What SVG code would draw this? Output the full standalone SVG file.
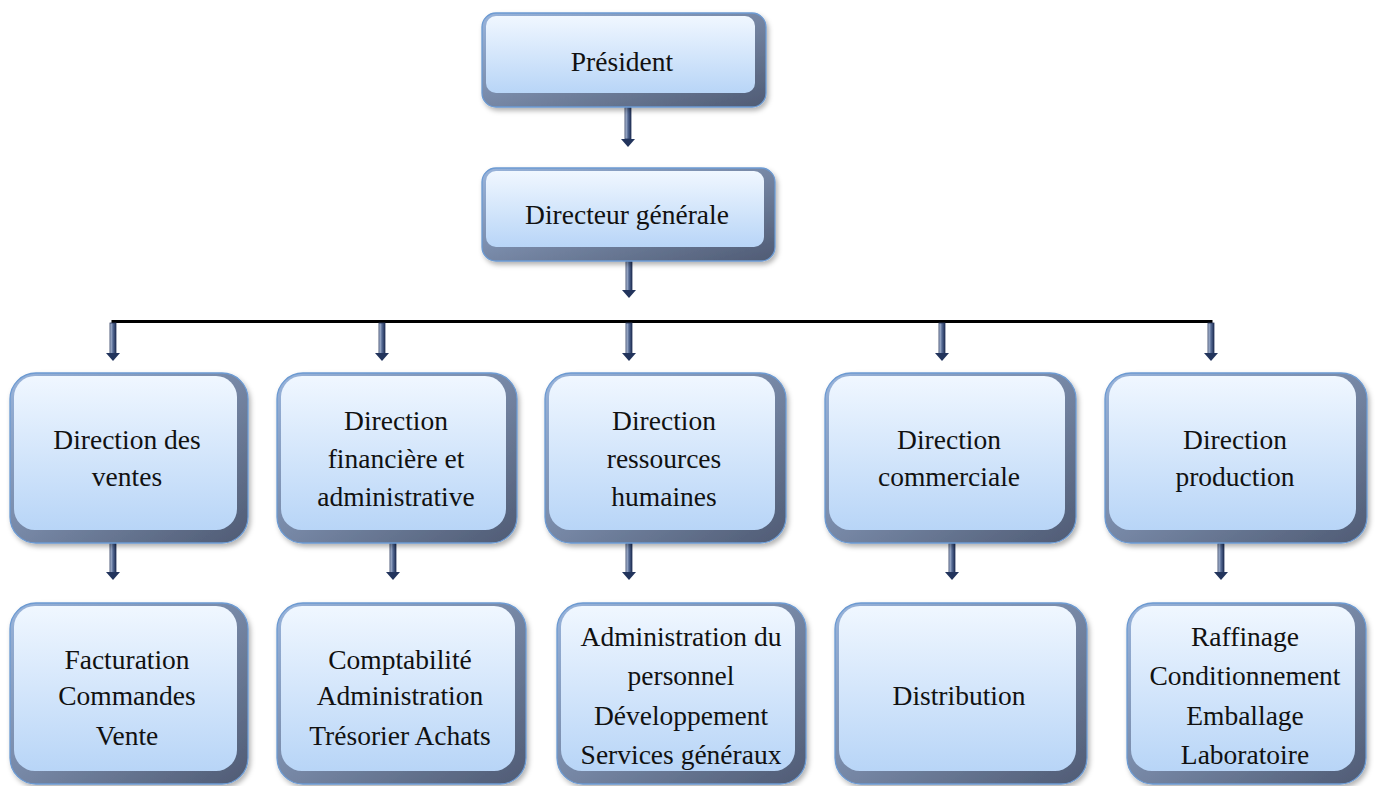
<svg xmlns="http://www.w3.org/2000/svg" width="1376" height="786" viewBox="0 0 1376 786">
<defs>
  <linearGradient id="bev" x1="0" y1="0" x2="1" y2="1">
    <stop offset="0" stop-color="#98b4dc"/>
    <stop offset="0.5" stop-color="#7687a5"/>
    <stop offset="1" stop-color="#4f5b74"/>
  </linearGradient>
  <linearGradient id="face" x1="0" y1="0" x2="0" y2="1">
    <stop offset="0" stop-color="#f0f7ff"/>
    <stop offset="1" stop-color="#b8d5f7"/>
  </linearGradient>
  <linearGradient id="shaft" x1="0" y1="0" x2="1" y2="0">
    <stop offset="0" stop-color="#c9d5ea"/>
    <stop offset="0.5" stop-color="#556a94"/>
    <stop offset="1" stop-color="#1f2f55"/>
  </linearGradient>
  <filter id="sh" x="-10%" y="-10%" width="120%" height="125%">
    <feDropShadow dx="2" dy="3" stdDeviation="2.5" flood-color="#000" flood-opacity="0.3"/>
  </filter>
</defs>
<style>
  .bevel { fill: url(#bev); stroke: #6c9ad2; stroke-width: 1.3; filter: url(#sh); }
  .face { fill: url(#face); }
  .lbl { font-family: "Liberation Serif", "DejaVu Serif", serif; font-size: 27.5px; fill: #111; text-anchor: middle; }
  .sh { fill: url(#shaft); stroke: #26365a; stroke-width: 0.8; }
  .hd { fill: #22345c; }
  .bus { fill: none; stroke: #000; stroke-width: 3; }
</style>

<g id="connectors">
  <path class="bus" d="M113,333 V321.5 H1211 V333"/>
  <g id="a-pres">
    <rect class="sh" x="625" y="107" width="6" height="32"/><polygon class="hd" points="621,139 635,139 628,147"/>
  </g>
  <g id="a-dg">
    <rect class="sh" x="626" y="261" width="6" height="30"/><polygon class="hd" points="622,290 636,290 629,298"/>
  </g>
  <g id="a-bus">
    <rect class="sh" x="110" y="323" width="6" height="31"/><polygon class="hd" points="106,353 120,353 113,361"/>
    <rect class="sh" x="379" y="323" width="6" height="31"/><polygon class="hd" points="375,353 389,353 382,361"/>
    <rect class="sh" x="626" y="323" width="6" height="31"/><polygon class="hd" points="622,353 636,353 629,361"/>
    <rect class="sh" x="939" y="323" width="6" height="31"/><polygon class="hd" points="935,353 949,353 942,361"/>
    <rect class="sh" x="1208" y="323" width="6" height="31"/><polygon class="hd" points="1204,353 1218,353 1211,361"/>
  </g>
  <g id="a-row2">
    <rect class="sh" x="110" y="543" width="6" height="30"/><polygon class="hd" points="106,572 120,572 113,580"/>
    <rect class="sh" x="390" y="543" width="6" height="30"/><polygon class="hd" points="386,572 400,572 393,580"/>
    <rect class="sh" x="626" y="543" width="6" height="30"/><polygon class="hd" points="622,572 636,572 629,580"/>
    <rect class="sh" x="949" y="543" width="6" height="30"/><polygon class="hd" points="945,572 959,572 952,580"/>
    <rect class="sh" x="1218" y="543" width="6" height="30"/><polygon class="hd" points="1214,572 1228,572 1221,580"/>
  </g>
</g>

<g id="n-president">
  <rect class="bevel" x="482" y="13" width="284" height="94" rx="14"/>
  <rect class="face" x="486" y="16" width="269" height="77" rx="10"/>
  <text class="lbl" x="622" y="71">Président</text>
</g>
<g id="n-dg">
  <rect class="bevel" x="482" y="168" width="293" height="93" rx="14"/>
  <rect class="face" x="486" y="171" width="278" height="76" rx="10"/>
  <text class="lbl" x="627" y="224">Directeur générale</text>
</g>

<g id="n-ventes">
  <rect class="bevel" x="10" y="373" width="238" height="170" rx="26"/>
  <rect class="face" x="14" y="376" width="223" height="154" rx="21"/>
  <text class="lbl" x="127" y="449">Direction des</text>
  <text class="lbl" x="127" y="486">ventes</text>
</g>
<g id="n-fin">
  <rect class="bevel" x="277" y="373" width="240" height="170" rx="26"/>
  <rect class="face" x="281" y="376" width="225" height="154" rx="21"/>
  <text class="lbl" x="396" y="430">Direction</text>
  <text class="lbl" x="396" y="468">financière et</text>
  <text class="lbl" x="396" y="506">administrative</text>
</g>
<g id="n-rh">
  <rect class="bevel" x="545" y="373" width="241" height="170" rx="26"/>
  <rect class="face" x="549" y="376" width="226" height="154" rx="21"/>
  <text class="lbl" x="664" y="430">Direction</text>
  <text class="lbl" x="664" y="468">ressources</text>
  <text class="lbl" x="664" y="506">humaines</text>
</g>
<g id="n-com">
  <rect class="bevel" x="825" y="373" width="251" height="170" rx="26"/>
  <rect class="face" x="829" y="376" width="236" height="154" rx="21"/>
  <text class="lbl" x="949" y="449">Direction</text>
  <text class="lbl" x="949" y="486">commerciale</text>
</g>
<g id="n-prod">
  <rect class="bevel" x="1105" y="373" width="262" height="170" rx="26"/>
  <rect class="face" x="1109" y="376" width="247" height="154" rx="21"/>
  <text class="lbl" x="1235" y="449">Direction</text>
  <text class="lbl" x="1235" y="486">production</text>
</g>

<g id="n-fact">
  <rect class="bevel" x="10" y="603" width="238" height="181" rx="26"/>
  <rect class="face" x="14" y="606" width="223" height="165" rx="21"/>
  <text class="lbl" x="127" y="669">Facturation</text>
  <text class="lbl" x="127" y="705">Commandes</text>
  <text class="lbl" x="127" y="745">Vente</text>
</g>
<g id="n-compta">
  <rect class="bevel" x="277" y="603" width="249" height="181" rx="26"/>
  <rect class="face" x="281" y="606" width="234" height="165" rx="21"/>
  <text class="lbl" x="400" y="669">Comptabilité</text>
  <text class="lbl" x="400" y="705">Administration</text>
  <text class="lbl" x="400" y="745">Trésorier Achats</text>
</g>
<g id="n-perso">
  <rect class="bevel" x="557" y="603" width="249" height="181" rx="26"/>
  <rect class="face" x="561" y="606" width="234" height="165" rx="21"/>
  <text class="lbl" x="681" y="646">Administration du</text>
  <text class="lbl" x="681" y="685">personnel</text>
  <text class="lbl" x="681" y="725">Développement</text>
  <text class="lbl" x="681" y="764">Services généraux</text>
</g>
<g id="n-distrib">
  <rect class="bevel" x="835" y="603" width="252" height="181" rx="26"/>
  <rect class="face" x="839" y="606" width="237" height="165" rx="21"/>
  <text class="lbl" x="959" y="705">Distribution</text>
</g>
<g id="n-raff">
  <rect class="bevel" x="1127" y="603" width="239" height="181" rx="26"/>
  <rect class="face" x="1131" y="606" width="224" height="165" rx="21"/>
  <text class="lbl" x="1245" y="646">Raffinage</text>
  <text class="lbl" x="1245" y="685">Conditionnement</text>
  <text class="lbl" x="1245" y="725">Emballage</text>
  <text class="lbl" x="1245" y="764">Laboratoire</text>
</g>
</svg>
